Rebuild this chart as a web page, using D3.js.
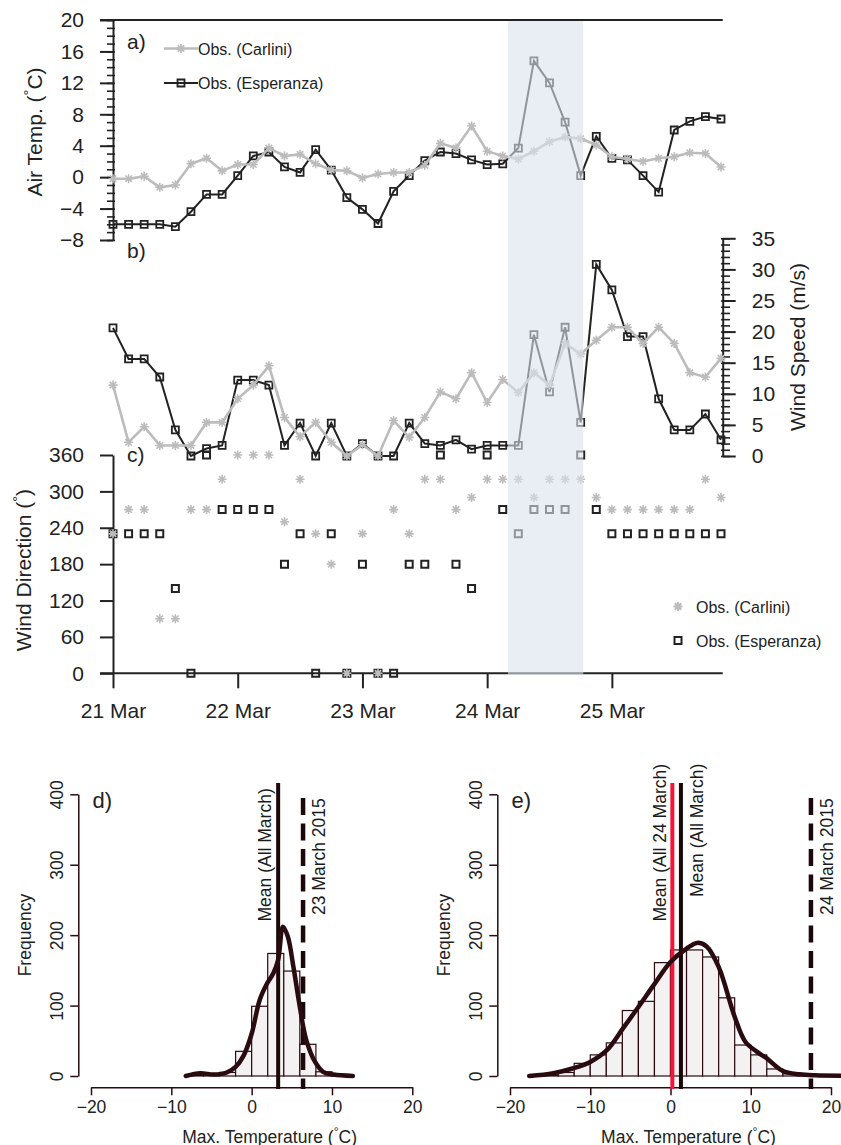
<!DOCTYPE html>
<html>
<head>
<meta charset="utf-8">
<script src="https://cdn.jsdelivr.net/npm/d3@7"></script>
<style>
  body { margin: 0; background: #fff; }
  svg { display: block; font-family: "Liberation Sans", Arial, Helvetica, sans-serif; }
</style>
</head>
<body>
<div id="chart"></div>
<script>
// 3-hourly observations, 21 Mar 00:00 to 25 Mar 21:00 (2015)
const obsHours = d3.range(0, 120, 3);

// a) air temperature (°C)
const carliniTemp = [-0.2, -0.2, 0.1, -1.3, -1.0, 1.7, 2.4, 0.8, 1.6, 1.6,
    3.7, 2.7, 2.9, 1.7, 0.9, 0.8, -0.1, 0.4, 0.6, 0.6,
    1.5, 4.3, 3.7, 6.5, 3.3, 2.7, 2.3, 3.3, 4.5, 5.1,
    4.9, 4.1, 2.6, 2.3, 2.0, 2.4, 2.6, 3.1, 3.0, 1.3];
const esperanzaTemp = [-6.0, -6.0, -6.0, -6.0, -6.3, -4.4, -2.2, -2.2, 0.2, 2.7,
    3.2, 1.3, 0.6, 3.5, 0.9, -2.6, -4.1, -5.9, -1.8, 0.2,
    2.1, 3.2, 3.0, 2.2, 1.6, 1.7, 3.7, 14.8, 12.0, 7.0,
    0.2, 5.2, 2.4, 2.2, 0.2, -1.9, 6.0, 7.1, 7.7, 7.4];

// b) wind speed (m/s)
const carliniSpeed = [11.4, 2.2, 4.7, 1.7, 1.7, 1.7, 5.4, 5.4, 9.2, 11.4,
    14.5, 6.2, 3.1, 5.4, 2.2, 0, 1.8, 0, 5.7, 3.0,
    6.2, 10.3, 9.2, 13.4, 8.6, 12.3, 10.2, 13.4, 11.4, 18.1,
    16.4, 18.6, 20.7, 20.7, 18.1, 20.7, 18.1, 13.4, 12.7, 15.7];
const esperanzaSpeed = [20.6, 15.6, 15.6, 12.7, 4.2, 0, 1.2, 1.7, 12.2, 12.2,
    11.4, 1.7, 5.3, 0, 5.3, 0, 2.0, 0, 0, 5.3,
    2.0, 1.7, 2.6, 1.1, 1.7, 1.7, 1.7, 19.5, 10.3, 20.7,
    5.4, 30.8, 26.7, 19.2, 19.2, 9.2, 4.2, 4.2, 6.75, 2.6];

// c) wind direction (°)
const carliniDir = [230, 270, 270, 90, 90, 270, 270, 320, 360, 360,
    360, 250, 320, 230, 180, 0, 230, 0, 270, 230,
    320, 320, 270, 290, 320, 320, 320, 290, 320, 320,
    320, 290, 270, 270, 270, 270, 270, 270, 320, 290];
const esperanzaDir = [230, 230, 230, 230, 140, 0, 360, 270, 270, 270,
    270, 180, 230, 0, 230, 0, 180, 0, 0, 180,
    180, 360, 180, 140, 360, 270, 230, 270, 270, 270,
    360, 270, 230, 230, 230, 230, 230, 230, 230, 230];

const dayTicks = ["2015-03-21", "2015-03-22", "2015-03-23", "2015-03-24", "2015-03-25"];
const tempTicks = [-8, -4, 0, 4, 8, 12, 16, 20];
const speedTicks = [0, 5, 10, 15, 20, 25, 30, 35];
const dirTicks = [0, 60, 120, 180, 240, 300, 360];
const highlight = ["2015-03-24T04:00Z", "2015-03-24T18:30Z"];

// d) max temperature histogram, 23 March
const binStartD = [-8, -6, -4, -2, 0, 2, 4, 6, 8, 10];
const countD = [1, 2, 5, 35, 99, 174, 149, 45, 6, 1];
const densTempD = [-8.2, -6.4, -4.7, -3.1, -2.0, -1.0, 0.0, 1.0, 1.9, 2.7, 3.3, 3.9, 4.5, 5.2, 6.0, 6.8, 7.9, 8.9, 10.2, 12.6];
const densFreqD = [0, 4, 2, 5, 13, 29, 60, 108, 131, 146, 165, 212, 198, 155, 98, 51, 20, 6, 2, 0];

// e) max temperature histogram, 24 March
const binStartE = [-16, -14, -12, -10, -8, -6, -4, -2, 0, 2, 4, 6, 8, 10, 12, 14, 16];
const countE = [1, 5, 18, 30, 47, 93, 106, 161, 179, 179, 169, 111, 44, 30, 10, 3, 1];
const densTempE = [-17.6, -14.6, -12.1, -10.0, -7.9, -5.9, -4.0, -2.1, 0.0, 2.0, 3.3, 4.5, 6.0, 8.0, 9.3, 10.7, 12.0, 14.0, 16.1, 18.0, 21.5];
const densFreqE = [0, 4, 11, 20, 37, 68, 98, 129, 162, 181, 189, 184, 155, 84, 49, 35, 25, 7, 2.4, 1, 0.5];

const histXTicks = [-20, -10, 0, 10, 20];
const histYTicks = [0, 100, 200, 300, 400];

const W = 841, H = 1145;
const FONT = 21;
const ink = "#222";
const carliniColor = "#bcbcbc";

const svg = d3.select("#chart").append("svg")
    .attr("width", W)
    .attr("height", H);

const times = obsHours.map(h => new Date(Date.UTC(2015, 2, 21, h)));

const x = d3.scaleUtc()
    .domain([new Date(Date.UTC(2015, 2, 21)), new Date(Date.UTC(2015, 2, 25, 21))])
    .range([113, 721]);
const yTemp = d3.scaleLinear().domain([-8, 20]).range([240, 20]);
const ySpeed = d3.scaleLinear().domain([0, 35]).range([456, 238.3]);
const yDir = d3.scaleLinear().domain([0, 360]).range([673.3, 455]);

const starPath = "M-4.5,0H4.5M0,-4.5V4.5M-3.2,-3.2L3.2,3.2M-3.2,3.2L3.2,-3.2";
const squarePath = "M-3.5,-3.5h7v7h-7z";

function styleAxis(g, color, width, size) {
    g.selectAll("path.domain").attr("stroke", color).attr("stroke-width", width);
    g.selectAll(".tick line").attr("stroke", color).attr("stroke-width", width);
    g.selectAll(".tick text").attr("fill", ink).style("font-size", size + "px");
    g.attr("font-family", null);
}

function drawSeries(values, yScale, opts) {
    const pts = values.map((v, i) => [x(times[i]), yScale(v)]);
    if (opts.line) {
        svg.append("path")
            .attr("d", d3.line()(pts))
            .attr("fill", "none")
            .attr("stroke", opts.color)
            .attr("stroke-width", opts.lineWidth);
    }
    svg.append("g")
        .selectAll("path")
        .data(pts)
        .enter()
        .append("path")
        .attr("transform", d => `translate(${d[0]},${d[1]})`)
        .attr("d", opts.symbol)
        .attr("fill", "none")
        .attr("stroke", opts.color)
        .attr("stroke-width", opts.symbolWidth);
}

// ---------- panel a: air temperature ----------
const axA = svg.append("g")
    .attr("transform", "translate(113,0)")
    .call(d3.axisLeft(yTemp).tickValues(tempTicks).tickSize(13).tickPadding(16).tickSizeOuter(0));
styleAxis(axA, ink, 2, FONT);
const axAminor = svg.append("g")
    .attr("transform", "translate(115,0)")
    .call(d3.axisLeft(yTemp).tickValues(d3.range(-8, 21)).tickSize(8).tickFormat(""));
axAminor.select(".domain").remove();
styleAxis(axAminor, ink, 1.6, FONT);

svg.append("line")
    .attr("x1", 100).attr("x2", 722.7)
    .attr("y1", yTemp(20)).attr("y2", yTemp(20))
    .attr("stroke", ink).attr("stroke-width", 2);

drawSeries(esperanzaTemp, yTemp, { line: true, color: ink, lineWidth: 2, symbol: squarePath, symbolWidth: 1.8 });
drawSeries(carliniTemp, yTemp, { line: true, color: carliniColor, lineWidth: 2.6, symbol: starPath, symbolWidth: 1.6 });

// ---------- panel b: wind speed ----------
const axB = svg.append("g")
    .attr("transform", "translate(722.7,0)")
    .call(d3.axisRight(ySpeed).tickValues(speedTicks).tickSize(13).tickPadding(16).tickSizeOuter(0));
styleAxis(axB, ink, 2, FONT);
const axBminor = svg.append("g")
    .attr("transform", "translate(721,0)")
    .call(d3.axisRight(ySpeed).tickValues(d3.range(0, 36)).tickSize(9).tickFormat(""));
axBminor.select(".domain").remove();
styleAxis(axBminor, ink, 1.6, FONT);

drawSeries(esperanzaSpeed, ySpeed, { line: true, color: ink, lineWidth: 2, symbol: squarePath, symbolWidth: 1.8 });
drawSeries(carliniSpeed, ySpeed, { line: true, color: carliniColor, lineWidth: 2.6, symbol: starPath, symbolWidth: 1.6 });

// ---------- panel c: wind direction ----------
const axC = svg.append("g")
    .attr("transform", "translate(113,0)")
    .call(d3.axisLeft(yDir).tickValues(dirTicks).tickSize(13).tickPadding(16).tickSizeOuter(0));
styleAxis(axC, ink, 2, FONT);

const axT = svg.append("g")
    .attr("transform", `translate(0,${yDir(0)})`)
    .call(d3.axisBottom(x)
        .tickValues(dayTicks.map(d => new Date(d + "T00:00Z")))
        .tickSize(15).tickPadding(15)
        .tickFormat(d3.utcFormat("%-d %b")));
axT.select(".domain").remove();
styleAxis(axT, ink, 2, FONT);
svg.append("line")
    .attr("x1", 100).attr("x2", 722.7)
    .attr("y1", yDir(0)).attr("y2", yDir(0))
    .attr("stroke", ink).attr("stroke-width", 2);

drawSeries(esperanzaDir, yDir, { line: false, color: ink, symbol: squarePath, symbolWidth: 2 });
drawSeries(carliniDir, yDir, { line: false, color: carliniColor, symbol: starPath, symbolWidth: 1.6 });

// highlighted period, drawn over the data
svg.append("rect")
    .attr("x", x(new Date(highlight[0])))
    .attr("width", x(new Date(highlight[1])) - x(new Date(highlight[0])))
    .attr("y", 21)
    .attr("height", 674.5 - 21)
    .attr("fill", "#dbe2ec")
    .attr("fill-opacity", 0.6);

// axis titles and panel labels
function vText(tx, ty, str, size) {
    return svg.append("text")
        .attr("transform", `translate(${tx},${ty}) rotate(-90)`)
        .attr("text-anchor", "middle")
        .attr("fill", ink)
        .style("font-size", size + "px")
        .text(str);
}
function degText(t, before, after, size) {
    t.text(null);
    t.append("tspan").text(before);
    t.append("tspan").text("°").attr("dy", -size * 0.38).style("font-size", (size * 0.7) + "px");
    t.append("tspan").text(after).attr("dy", size * 0.38);
}
degText(vText(42, 132, "", FONT), "Air Temp. (", "C)", FONT);
vText(805, 347, "Wind Speed (m/s)", FONT);
degText(vText(31, 570, "", FONT), "Wind Direction (", ")", FONT);

[["a)", 127, 49], ["b)", 127, 258], ["c)", 127, 462]].forEach(d => {
    svg.append("text").attr("x", d[1]).attr("y", d[2])
        .attr("fill", ink).style("font-size", "21px").text(d[0]);
});

// legends
const legA = [
    { label: "Obs. (Carlini)", color: carliniColor, symbol: starPath, lw: 2.6, y: 48.5 },
    { label: "Obs. (Esperanza)", color: ink, symbol: squarePath, lw: 2, y: 83 }
];
legA.forEach(d => {
    svg.append("line").attr("x1", 164).attr("x2", 198).attr("y1", d.y).attr("y2", d.y)
        .attr("stroke", d.color).attr("stroke-width", d.lw);
    svg.append("path").attr("transform", `translate(181,${d.y})`).attr("d", d.symbol)
        .attr("fill", "none").attr("stroke", d.color).attr("stroke-width", 1.8);
    svg.append("text").attr("x", 198).attr("y", d.y + 6).attr("fill", ink)
        .style("font-size", "16px").text(d.label);
});
const legC = [
    { label: "Obs. (Carlini)", color: carliniColor, symbol: starPath, y: 606.5 },
    { label: "Obs. (Esperanza)", color: ink, symbol: squarePath, y: 640.5 }
];
legC.forEach(d => {
    svg.append("path").attr("transform", `translate(678,${d.y})`).attr("d", d.symbol)
        .attr("fill", "none").attr("stroke", d.color).attr("stroke-width", 2);
    svg.append("text").attr("x", 696).attr("y", d.y + 6).attr("fill", ink)
        .style("font-size", "16px").text(d.label);
});

// ---------- panels d and e: histograms ----------
const histInk = "#2a0b10";
const yHist = d3.scaleLinear().domain([0, 400]).range([1076, 794.3]);

function drawHist(cfg) {
    const hx = d3.scaleLinear().domain([-20, 20]).range(cfg.range);
    const g = svg.append("g");

    g.append("g").selectAll("rect")
        .data(cfg.bins.map((b, i) => ({ x0: b, x1: b + 2, n: cfg.counts[i] })))
        .enter()
        .append("rect")
        .attr("x", d => hx(d.x0))
        .attr("y", d => yHist(d.n))
        .attr("width", d => hx(d.x1) - hx(d.x0))
        .attr("height", d => yHist(0) - yHist(d.n))
        .attr("fill", "#f3f1f1")
        .attr("stroke", histInk)
        .attr("stroke-width", 1.2);

    const ax = g.append("g")
        .attr("transform", "translate(0,1087.3)")
        .call(d3.axisBottom(hx).tickValues(histXTicks).tickSize(8).tickPadding(5).tickSizeOuter(0));
    styleAxis(ax, histInk, 1.5, 17.5);
    const ay = g.append("g")
        .attr("transform", `translate(${cfg.range[0] - 12.7},0)`)
        .call(d3.axisLeft(yHist).tickValues(histYTicks).tickSize(8).tickSizeOuter(0));
    styleAxis(ay, histInk, 1.5, 17.5);
    ay.selectAll(".tick text")
        .attr("x", null).attr("dy", null)
        .attr("text-anchor", "middle")
        .attr("transform", "translate(-15,0) rotate(-90)");

    // reference lines
    cfg.vlines.forEach(v => {
        g.append("line")
            .attr("x1", hx(v.t)).attr("x2", hx(v.t))
            .attr("y1", v.top).attr("y2", 1089)
            .attr("stroke", v.color)
            .attr("stroke-width", v.w)
            .attr("stroke-dasharray", v.dash || null);
    });

    g.append("path")
        .attr("d", d3.line().curve(d3.curveCatmullRom)(cfg.densT.map((t, i) => [hx(t), yHist(cfg.densF[i])])))
        .attr("fill", "none")
        .attr("stroke", histInk)
        .attr("stroke-width", 4.5)
        .attr("stroke-linecap", "round");

    cfg.vlines.forEach(v => {
        g.append("text")
            .attr("transform", `translate(${v.textX},${v.textY}) rotate(-90)`)
            .attr("fill", "#1a1a1a")
            .style("font-size", "17.5px")
            .text(v.label);
    });

    g.append("text").attr("x", cfg.range[0] + 1.5).attr("y", 808)
        .attr("fill", ink).style("font-size", "22px").text(cfg.tag);
    g.append("text")
        .attr("transform", `translate(${cfg.range[0] - 60},935) rotate(-90)`)
        .attr("text-anchor", "middle").attr("fill", ink)
        .style("font-size", "17.5px").text("Frequency");
    const xt = g.append("text")
        .attr("x", hx(0) + 18).attr("y", 1142.5)
        .attr("text-anchor", "middle").attr("fill", ink)
        .style("font-size", "17.5px");
    degText(xt, "Max. Temperature (", "C)", 17.5);
}

drawHist({
    range: [91, 412.3], tag: "d)",
    bins: binStartD, counts: countD, densT: densTempD, densF: densFreqD,
    vlines: [
        { t: 3.3, top: 783, color: "#1c0709", w: 4, label: "Mean (All March)", textX: 271, textY: 921.5 },
        { t: 6.4, top: 798, color: "#1c0709", w: 4.5, dash: "17 8.5", label: "23 March 2015", textX: 325, textY: 915 }
    ]
});
drawHist({
    range: [510, 831], tag: "e)",
    bins: binStartE, counts: countE, densT: densTempE, densF: densFreqE,
    vlines: [
        { t: 0.23, top: 783, color: "#f2173a", w: 4, label: "Mean (All 24 March)", textX: 665.5, textY: 921.5 },
        { t: 1.3, top: 783, color: "#1c0709", w: 4, label: "Mean (All March)", textX: 703, textY: 897 },
        { t: 17.5, top: 798, color: "#1c0709", w: 4.5, dash: "17 8.5", label: "24 March 2015", textX: 832.5, textY: 915 }
    ]
});
</script>
</body>
</html>
